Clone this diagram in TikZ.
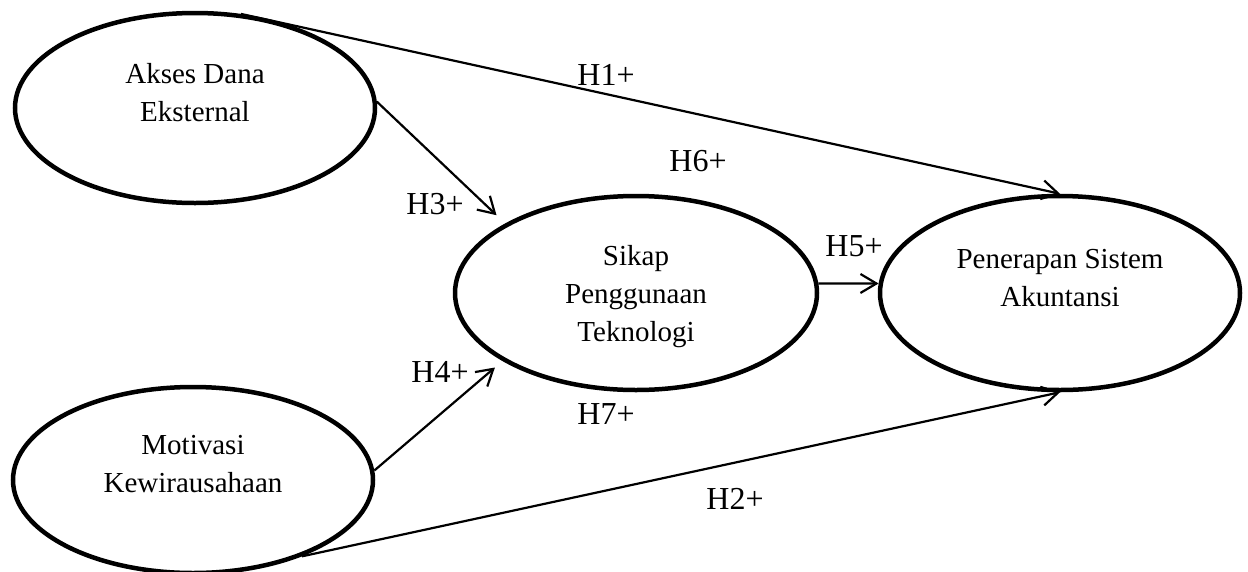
\documentclass[tikz,border=0pt]{standalone}
\usepackage{fontspec}
\setmainfont{Liberation Serif}
\usetikzlibrary{shapes.geometric,arrows.meta}
\tikzset{
  construct/.style={ellipse, draw=black, line width=4.5pt, inner sep=0pt},
  ctext/.style={align=center, inner sep=0pt, font=\fontsize{29}{38}\selectfont},
  hlabel/.style={inner sep=0pt, font=\fontsize{32}{38}\selectfont},
  path/.style={draw=black, line width=2.2pt, -{Straight Barb[length=16pt,width=19pt,line width=2.2pt]}}
}
\begin{document}
\begin{tikzpicture}[x=1pt,y=-1pt]
\useasboundingbox (0,0) rectangle (1248,571);
% constructs
\node[construct, minimum width=360pt, minimum height=190pt] (a) at (195,108) {};
\node[construct, minimum width=360pt, minimum height=186pt] (b) at (193,480) {};
\node[construct, minimum width=362pt, minimum height=194pt] (c) at (636,293) {};
\node[construct, minimum width=360pt, minimum height=194pt] (d) at (1060,293) {};
% texts
\node[ctext] (ta) at (195,93) {Akses Dana\\Eksternal};
\node[ctext] (tb) at (193,464) {Motivasi\\Kewirausahaan};
\node[ctext] (tc) at (636,297) {Sikap\\Penggunaan\\Teknologi};
\node[ctext] (td) at (1060,278) {Penerapan Sistem\\Akuntansi};
% connectors
\draw[path] (a.64) -- (d.north);
\draw[path] (b.-35) -- (d.south);
\draw[path, shorten >=12pt] (a.2) -- (c.152);
\draw[path, shorten >=10pt] (b.3) -- (c.207);
\draw[path] (c.3) -- (d.177);
% labels
\node[hlabel] (h1) at (606,75) {H1+};
\node[hlabel] (h6) at (698,161) {H6+};
\node[hlabel] (h3) at (435,204) {H3+};
\node[hlabel] (h5) at (854,246) {H5+};
\node[hlabel] (h4) at (440,372) {H4+};
\node[hlabel] (h7) at (606,414) {H7+};
\node[hlabel] (h2) at (735,499) {H2+};
\end{tikzpicture}
\end{document}
